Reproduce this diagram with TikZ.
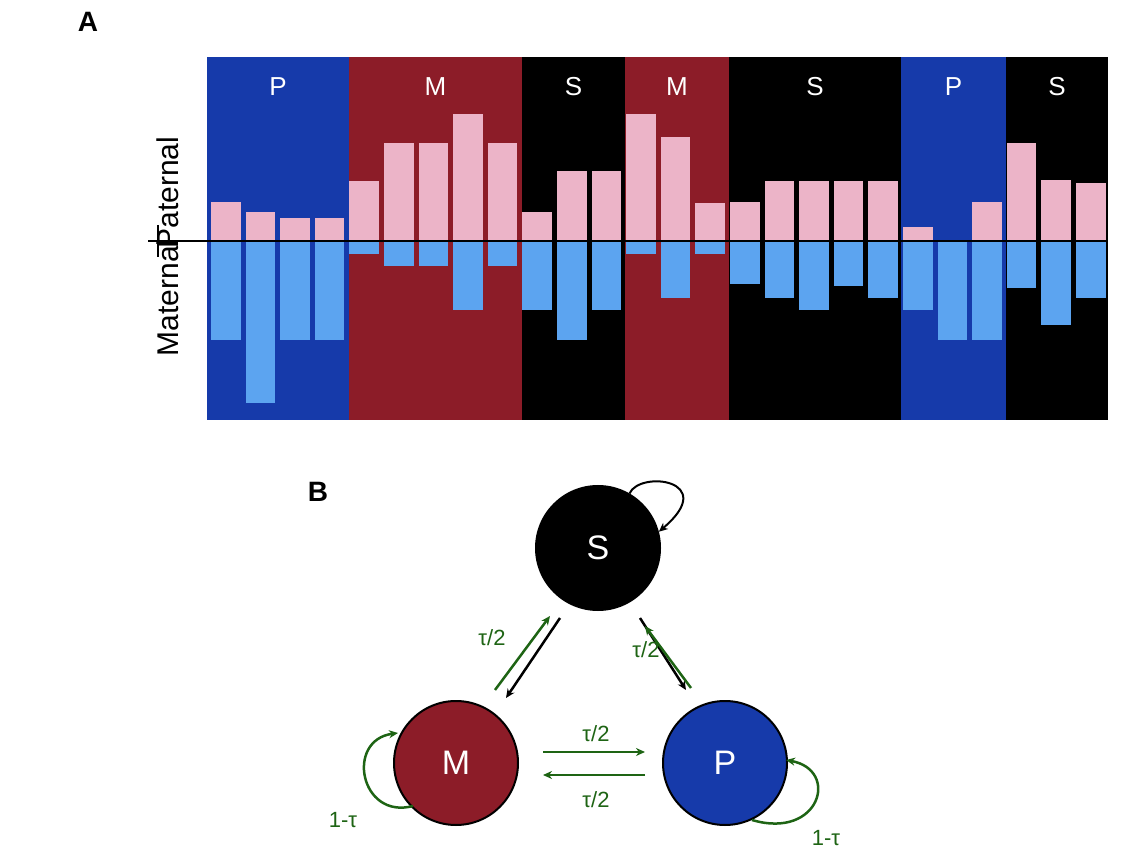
\documentclass[tikz,border=0pt]{standalone}
\usepackage{fontspec}
\setmainfont{Liberation Sans}
\usetikzlibrary{arrows.meta}
\definecolor{pb}{RGB}{22,58,170}
\definecolor{mr}{RGB}{140,28,40}
\definecolor{pk}{RGB}{236,180,200}
\definecolor{lb}{RGB}{92,164,240}
\definecolor{gr}{RGB}{30,100,20}
\begin{document}
\begin{tikzpicture}[x=1pt,y=-1pt,
  lab/.style={text=white,font=\fontsize{26}{26}\selectfont},
  st/.style={circle,draw=black,line width=2pt,minimum size=124pt,inner sep=0pt,text=white,font=\fontsize{34}{34}\selectfont},
  ar/.style={line width=2.5pt,-{Stealth[length=9pt,width=8pt]}},
  gl/.style={text=gr,font=\fontsize{22}{22}\selectfont}]
\useasboundingbox (0,0) rectangle (1144,866);
\node[font=\bfseries\fontsize{28}{28}\selectfont] (la) at (88,22) {A};
\node[font=\bfseries\fontsize{28}{28}\selectfont] (lb) at (318,492) {B};
% segments
\foreach \a/\b/\c/\t in {207/349/pb/P,349/522/mr/M,522/625/black/S,625/729/mr/M,729/901/black/S,901/1006/pb/P,1006/1108/black/S}{
  \fill[\c] (\a,57) rectangle (\b,420);
  \node[lab] at ({(\a+\b)/2},87) {\t};
}
% bars
\foreach \m/\p [count=\i from 0] in {202/340,212/403,218/340,218/340,181/254,143/266,143/266,114/310,143/266,212/310,171/340,171/310,114/254,137/298,203/254,202/284,181/298,181/310,181/286,181/298,227/310,241/340,202/340,143/288,180/325,183/298}{
  \pgfmathsetmacro\xa{211+34.6*\i}
  \fill[pk] (\xa,\m) rectangle (\xa+29.5,241);
  \fill[lb] (\xa,241) rectangle (\xa+29.5,\p);
}
\draw[line width=2.5pt] (148,241) -- (1108,241);
\node[rotate=90,font=\fontsize{30}{30}\selectfont,anchor=east] (mat) at (168,236) {Maternal};
\node[rotate=90,font=\fontsize{30}{30}\selectfont,anchor=west] (pat) at (168,252) {Paternal};
\draw[line width=2pt] (158,225) -- (158,257);
% panel B
\node[st,fill=black] (S) at (598,548) {S};
\node[st,fill=mr] (M) at (456,763) {M};
\node[st,fill=pb] (P) at (725,763) {P};
\draw[line width=2pt,-{Stealth[length=9pt,width=8pt]}] (S.60) .. controls (640,470) and (720,480) .. (S.15);
\draw[ar,black] (560,618) -- (506,698);
\draw[ar,gr] (495,690) -- (550,616);
\draw[ar,black] (640,618) -- (686,690);
\draw[ar,gr] (691,688) -- (645,626);
\draw[ar,gr] (543,752) -- (645,752);
\draw[ar,gr] (645,775) -- (543,775);
\draw[ar,gr] (413,806) .. controls (360,820) and (345,740) .. (398,733);
\draw[ar,gr] (752,820) .. controls (820,840) and (840,770) .. (786,760);
\node[gl] (t1) at (492,638) {τ/2};
\node[gl] (t2) at (646,650) {τ/2};
\node[gl] (t3) at (596,734) {τ/2};
\node[gl] (t4) at (596,800) {τ/2};
\node[gl] (t5) at (343,820) {1-τ};
\node[gl] (t6) at (826,838) {1-τ};
\end{tikzpicture}
\end{document}
